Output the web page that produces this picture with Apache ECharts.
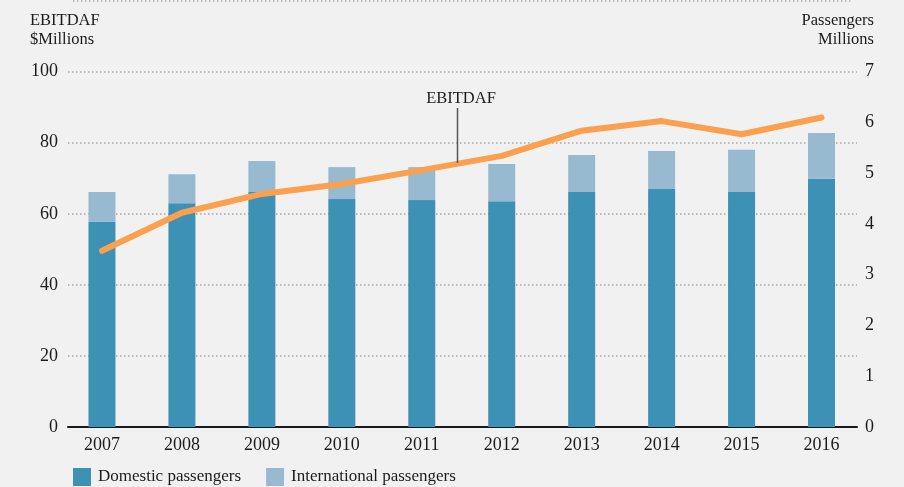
<!DOCTYPE html>
<html><head><meta charset="utf-8">
<script src="https://cdn.jsdelivr.net/npm/echarts@6/dist/echarts.min.js"></script>
<style>html,body{margin:0;padding:0;background:#f1f1f1;}#c{width:904px;height:487px;}</style>
</head><body><div id="c"></div>
<script>
var years = ['2007','2008','2009','2010','2011','2012','2013','2014','2015','2016'];
var domestic = [4.04, 4.41, 4.63, 4.49, 4.47, 4.45, 4.63, 4.69, 4.63, 4.89];
var international = [0.59, 0.57, 0.61, 0.63, 0.65, 0.73, 0.73, 0.75, 0.83, 0.90];
var ebitdaf = [49.6, 60.3, 65.6, 68.4, 72.3, 76.3, 83.4, 86.1, 82.4, 87.1];
var leftTicks = [0, 20, 40, 60, 80, 100];
var rightTicks = [0, 1, 2, 3, 4, 5, 6, 7];

var FONT = '"Liberation Serif", "DejaVu Serif", serif';
var TXT = '#1c1c1c';
var chart = echarts.init(document.getElementById('c'));
var gridTop = 71.7, gridBottom = 60;
chart.setOption({
  backgroundColor: '#f1f1f1',
  animation: false,
  textStyle: {fontFamily: FONT, color: TXT},
  grid: [
    {left: 68, right: 47, top: gridTop, bottom: gridBottom},
    {left: 62, right: 42.5, top: gridTop, bottom: gridBottom}
  ],
  xAxis: [
    {type: 'category', gridIndex: 0, data: years,
     axisLine: {show: true, lineStyle: {color: '#1a1a1a', width: 2}},
     axisTick: {show: false}, axisLabel: {show: false}, splitLine: {show: false}},
    {type: 'category', gridIndex: 1, data: years,
     axisLine: {show: false}, axisTick: {show: false},
     axisLabel: {fontFamily: FONT, fontSize: 18, color: TXT, margin: 9}}
  ],
  yAxis: [
    {type: 'value', gridIndex: 0, position: 'left', min: leftTicks[0], max: leftTicks[leftTicks.length-1], interval: 20,
     axisLine: {show: false}, axisTick: {show: false},
     axisLabel: {fontFamily: FONT, fontSize: 18, color: TXT, margin: 10},
     splitLine: {show: true, lineStyle: {color: '#a8a8a8', width: 1.5, type: [1.5, 2.5]}}},
    {type: 'value', gridIndex: 0, position: 'right', min: rightTicks[0], max: rightTicks[rightTicks.length-1], interval: 1,
     axisLine: {show: false}, axisTick: {show: false},
     axisLabel: {fontFamily: FONT, fontSize: 18, color: TXT, margin: 8},
     splitLine: {show: false}},
    {type: 'value', gridIndex: 1, min: 0, max: 7, show: false, splitLine: {show: false}},
    {type: 'value', gridIndex: 1, min: 0, max: 100, show: false, splitLine: {show: false}}
  ],
  legend: {
    left: 73, top: 468, padding: 0, itemWidth: 18, itemHeight: 18, itemGap: 25, icon: 'rect',
    textStyle: {fontFamily: FONT, fontSize: 17, color: TXT, padding: [0, 0, 0, 2]},
    data: ['Domestic passengers', 'International passengers']
  },
  series: [
    {name: 'Domestic passengers', type: 'bar', xAxisIndex: 1, yAxisIndex: 2, stack: 'p',
     barWidth: 27, data: domestic, itemStyle: {color: '#3d91b4'}, z: 2},
    {name: 'International passengers', type: 'bar', xAxisIndex: 1, yAxisIndex: 2, stack: 'p',
     barWidth: 27, data: international, itemStyle: {color: '#97bad0'}, z: 2},
    {name: 'EBITDAF', type: 'line', xAxisIndex: 1, yAxisIndex: 3, data: ebitdaf,
     symbol: 'none', lineStyle: {color: '#fba04e', width: 6, cap: 'round', join: 'round'}, z: 5}
  ],
  graphic: [
    {type: 'line', shape: {x1: 73, y1: 1, x2: 853, y2: 1},
     style: {stroke: '#b0b0b0', lineWidth: 1.5, lineDash: [1.5, 2.5]}},
    {type: 'text', x: 30, y: 11,
     style: {text: 'EBITDAF\n$Millions', font: '16.5px ' + FONT, fill: TXT, lineHeight: 19}},
    {type: 'text', x: 874, y: 11,
     style: {text: 'Passengers\nMillions', font: '16.5px ' + FONT, fill: TXT, lineHeight: 19, align: 'right'}},
    {type: 'text', x: 461, y: 99,
     style: {text: 'EBITDAF', font: '16.5px ' + FONT, fill: TXT, align: 'center', verticalAlign: 'middle'}},
    {type: 'line', shape: {x1: 457.5, y1: 108, x2: 457.5, y2: 163},
     style: {stroke: '#555', lineWidth: 1.5}, z: 10}
  ]
});
</script></body></html>
